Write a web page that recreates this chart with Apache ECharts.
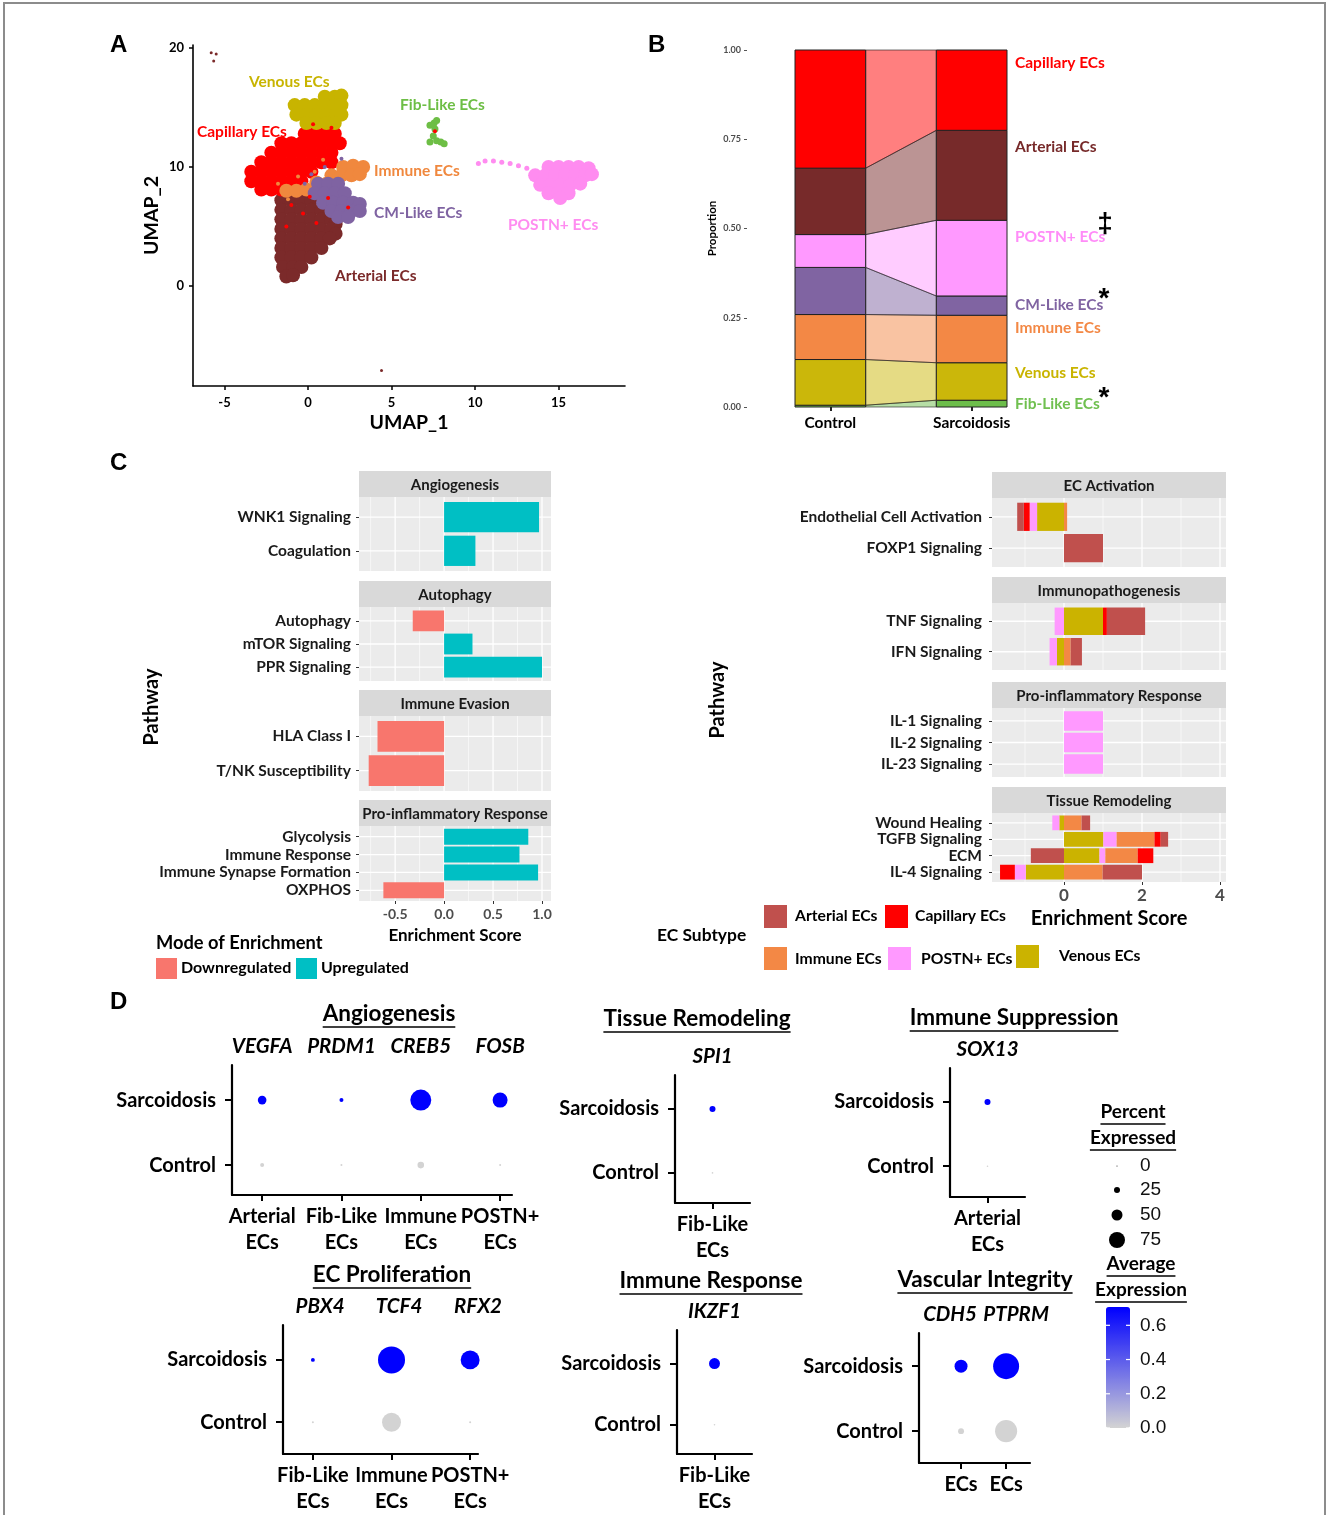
<!DOCTYPE html>
<html>
<head>
<meta charset="utf-8">
<script src="https://cdn.jsdelivr.net/npm/echarts@6.0.0/dist/echarts.min.js"></script>
<style>html,body{margin:0;padding:0;background:#fff;}#chart{width:1328px;height:1515px;}</style>
</head>
<body>
<div id="chart"></div>
<script>
// ======================= DATA =======================
// ---- Panel A : UMAP (approximate cluster samples, UMAP units) ----
const umapXTicks = [-5, 0, 5, 10, 15];
const umapYTicks = [0, 10, 20];
const arterialUmap = [
 [-1.6,7.2],[-1.0,7.2],[-0.4,7.2],[0.2,7.2],
 [-1.6,6.4],[-1.0,6.4],[-0.4,6.4],[0.2,6.4],[0.8,6.4],
 [-1.6,5.6],[-1.0,5.6],[-0.4,5.6],[0.2,5.6],[0.8,5.6],[1.4,5.6],[1.65,5.2],
 [-1.6,4.8],[-1.0,4.8],[-0.4,4.8],[0.2,4.8],[0.8,4.8],[1.4,4.8],[1.65,4.4],
 [-1.6,4.0],[-1.0,4.0],[-0.4,4.0],[0.2,4.0],[0.8,4.0],[1.3,4.0],
 [-1.6,3.2],[-1.0,3.2],[-0.4,3.2],[0.2,3.2],[0.8,3.2],
 [-1.6,2.4],[-1.0,2.4],[-0.4,2.4],[0.2,2.4],
 [-1.5,1.6],[-0.9,1.6],[-0.4,1.6],
 [-1.3,0.8],[-0.9,0.9]
];
const capillaryUmap = [
 [-0.2,12.8],[0.4,12.8],[1.0,12.8],[1.6,12.8],
 [-1.6,12.0],[-1.0,12.0],[-0.4,12.0],[0.2,12.0],[0.8,12.0],[1.4,12.0],[1.9,12.0],
 [-2.2,11.2],[-1.6,11.2],[-1.0,11.2],[-0.4,11.2],[0.2,11.2],[0.8,11.2],[1.4,11.2],
 [-2.8,10.4],[-2.2,10.4],[-1.6,10.4],[-1.0,10.4],[-0.4,10.4],[0.2,10.4],[0.8,10.4],[1.4,10.4],
 [-3.4,9.6],[-2.8,9.6],[-2.2,9.6],[-1.6,9.6],[-1.0,9.6],[-0.4,9.6],[0.2,9.6],
 [-3.4,8.8],[-2.8,8.8],[-2.2,8.8],[-1.6,8.8],[-1.0,8.8],[-0.4,8.8],
 [-2.8,8.1],[-2.2,8.1],[-1.6,8.1]
];
const immuneUmap = [
 [2.1,10.0],[2.7,10.1],[3.3,10.0],
 [1.4,9.3],[2.0,9.3],[2.6,9.3],[3.1,9.4],
 [0.5,8.7],[1.1,8.6],
 [-1.3,8.0],[-0.7,8.0],[-0.1,8.1]
];
const cmLikeUmap = [
 [0.6,8.6],[1.2,8.6],[1.8,8.6],
 [0.4,7.8],[1.0,7.8],[1.6,7.8],[2.2,7.8],
 [0.9,7.0],[1.5,7.0],[2.1,7.0],[2.7,7.0],[3.1,6.9],
 [1.4,6.3],[2.0,6.3],[2.6,6.3],[3.1,6.3],
 [1.8,5.8],[2.4,5.8]
];
const venousUmap = [
 [1.0,15.9],[1.6,15.9],[2.0,16.0],
 [-0.8,15.2],[-0.2,15.2],[0.4,15.2],[1.0,15.2],[1.6,15.2],[2.0,15.2],
 [-0.7,14.4],[-0.1,14.4],[0.5,14.4],[1.1,14.4],[1.7,14.4],[2.0,14.4],
 [-0.1,13.7],[0.5,13.7],[1.1,13.7],[1.6,13.7]
];
const fibLikeUmap = [[7.3,13.5],[7.55,13.7],[7.7,13.9],[7.6,13.2],[7.5,12.6],[7.7,12.2],[7.95,12.1],[8.15,11.95],[7.3,12.1]];
const postnUmap = [
 [14.4,10.0],[15.0,10.0],[15.6,10.0],[16.2,10.0],[16.8,9.9],
 [13.6,9.3],[14.2,9.3],[14.8,9.3],[15.4,9.3],[16.0,9.3],[16.6,9.3],[17.0,9.4],
 [13.9,8.5],[14.5,8.5],[15.1,8.5],[15.7,8.5],[16.3,8.6],
 [14.4,7.8],[15.0,7.8],[15.6,7.8],
 [15.1,7.4]
];
const postnTailUmap = [[10.2,10.3],[10.6,10.5],[11.1,10.5],[11.6,10.4],[12.1,10.3],[12.6,10.1],[13.1,9.9]];
const strayUmap = [[-5.8,19.6],[-5.5,19.5],[-5.65,18.9],[4.4,-7.1]];
// a few intermixed cells (small dots) scattered inside neighbouring clusters
const mixedCapillaryUmap = [[-1.0,6.8],[-0.3,6.1],[0.5,5.3],[-1.3,5.0],[0.1,7.5],[1.2,7.4],[2.4,6.6],[0.3,13.6],[1.4,13.3],[7.6,13.0]];
const mixedImmuneUmap = [[-1.8,8.6],[-0.6,9.2],[0.4,9.6],[-1.2,7.3],[0.9,10.6]];
const mixedCmUmap = [[0.2,9.4],[1.0,10.0],[-0.2,8.6],[2.0,10.7]];
const umapClusterNames = ['Venous ECs','Fib-Like ECs','Capillary ECs','Immune ECs','CM-Like ECs','POSTN+ ECs','Arterial ECs'];

// ---- Panel B : proportions (bottom -> top) ----
const bSubtypes = ['Fib-Like ECs','Venous ECs','Immune ECs','CM-Like ECs','POSTN+ ECs','Arterial ECs','Capillary ECs'];
const bControl = [0.005,0.128,0.126,0.132,0.092,0.186,0.331];
const bSarcoidosis = [0.019,0.105,0.133,0.054,0.212,0.252,0.225];
const bGroups = ['Control','Sarcoidosis'];

// ---- Panel C left ----
const cLeftFacets = ['Angiogenesis','Autophagy','Immune Evasion','Pro-inflammatory Response'];
const cLeftPathways = [
 ['WNK1 Signaling','Coagulation'],
 ['Autophagy','mTOR Signaling','PPR Signaling'],
 ['HLA Class I','T/NK Susceptibility'],
 ['Glycolysis','Immune Response','Immune Synapse Formation','OXPHOS']
];
const cLeftScores = [[0.97,0.32],[-0.32,0.29,1.0],[-0.68,-0.77],[0.86,0.77,0.96,-0.62]];
const cLeftTicks = [-0.5, 0, 0.5, 1.0];
const cLeftMinor = [-0.75, -0.25, 0.25, 0.75];
const modeNames = ['Downregulated','Upregulated'];

// ---- Panel C right (scores per subtype: Arterial, Capillary, Immune, POSTN+, Venous) ----
const cSubtypes = ['Arterial ECs','Capillary ECs','Immune ECs','POSTN+ ECs','Venous ECs'];
const cRightFacets = ['EC Activation','Immunopathogenesis','Pro-inflammatory Response','Tissue Remodeling'];
const cRightPathways = [
 ['Endothelial Cell Activation','FOXP1 Signaling'],
 ['TNF Signaling','IFN Signaling'],
 ['IL-1 Signaling','IL-2 Signaling','IL-23 Signaling'],
 ['Wound Healing','TGFB Signaling','ECM','IL-4 Signaling']
];
const cRightScores = [
 [[-0.17,-0.15,0.08,-0.19,-0.69],[1.0,0,0,0,0]],
 [[0.98,0.10,0,-0.24,1.0],[0.29,0,0.17,-0.19,-0.18]],
 [[0,0,0,1.0,0],[0,0,0,1.0,0],[0,0,0,1.0,0]],
 [[0.22,0,0.45,-0.18,-0.12],[0.19,0.16,0.97,0.34,1.01],[-0.85,0.40,0.83,0.15,0.91],[1.01,-0.38,0.99,-0.28,-0.98]]
];
const cRightTicks = [0, 2, 4];
const cRightMinor = [-1, 1, 3];

// ---- Panel D : dot plots ----
const dGroups = ['Control','Sarcoidosis'];
const angioGenes = ['VEGFA','PRDM1','CREB5','FOSB'];
const angioCells = ['Arterial\nECs','Fib-Like\nECs','Immune\nECs','POSTN+\nECs'];
const angioPctSarc = [38,15,100,70];
const angioPctCtrl = [15,5,28,5];
const angioExpSarc = [0.707,0.707,0.707,0.707];
const angioExpCtrl = [0,0,0,0];
const tissueGenes = ['SPI1'];
const tissueCells = ['Fib-Like\nECs'];
const tissuePctSarc = [25];
const tissuePctCtrl = [3];
const tissueExpSarc = [0.707];
const tissueExpCtrl = [0];
const suppGenes = ['SOX13'];
const suppCells = ['Arterial\nECs'];
const suppPctSarc = [25];
const suppPctCtrl = [3];
const suppExpSarc = [0.707];
const suppExpCtrl = [0];
const prolifGenes = ['PBX4','TCF4','RFX2'];
const prolifCells = ['Fib-Like\nECs','Immune\nECs','POSTN+\nECs'];
const prolifPctSarc = [11,100,69];
const prolifPctCtrl = [4,69,4];
const prolifExpSarc = [0.707,0.707,0.707];
const prolifExpCtrl = [0,0,0];
const respGenes = ['IKZF1'];
const respCells = ['Fib-Like\nECs'];
const respPctSarc = [50];
const respPctCtrl = [3];
const respExpSarc = [0.707];
const respExpCtrl = [0];
const vascGenes = ['CDH5','PTPRM'];
const vascCells = ['ECs','ECs'];
const vascPctSarc = [46,96];
const vascPctCtrl = [19,81];
const vascExpSarc = [0.707,0.707];
const vascExpCtrl = [0,0];
const pctLegend = [0,25,50,75];
const expLegendTicks = [0,0.2,0.4,0.6];
const expMax = 0.707;

// ======================= STYLE / LAYOUT =======================
const FF = 'Lato';
const mctx = document.createElement('canvas').getContext('2d');
function tw(text, font){ mctx.font = font; return mctx.measureText(text).width; }
function fnt(size, weight, style){ return (style||'normal') + ' ' + (weight||'bold') + ' ' + size + 'px ' + FF; }
function af(size, color, weight, extra){ return Object.assign({fontFamily:FF, fontSize:size, color:color||'#000', fontWeight:weight||'bold'}, extra||{}); }

const grids=[], xAxes=[], yAxes=[], series=[], graphics=[];
function addGrid(l,t,w,h,bg){ grids.push({left:l, top:t, width:w, height:h, show:!!bg, backgroundColor:bg||'transparent', borderWidth:0}); return grids.length-1; }
function txt(x,y,text,font,fill,align,vAlign,rot){
  align = align||'left'; vAlign = vAlign||'middle';
  return {type:'text', x:x, y:y, rotation:rot||0, silent:true, z:50,
    style:{text:text, font:font, fill:fill||'#000', align:align, verticalAlign:vAlign, textAlign:align, textVerticalAlign:vAlign}};
}
function rectG(x,y,w,h,fill,stroke,lw){ return {type:'rect', silent:true, z:40, shape:{x:x,y:y,width:w,height:h}, style:{fill:fill, stroke:stroke||null, lineWidth:lw||0}}; }
function lineG(x1,y1,x2,y2,stroke,lw){ return {type:'line', silent:true, z:50, shape:{x1:x1,y1:y1,x2:x2,y2:y2}, style:{stroke:stroke, lineWidth:lw}}; }
function underlined(cx, cy, text, size, offs){
  const font = fnt(size);
  const w = tw(text, font);
  graphics.push(txt(cx, cy, text, font, '#000', 'center'));
  graphics.push(lineG(cx-w/2, cy+offs, cx+w/2, cy+offs, '#000', 1.6));
}

// Panel letters
[['A',110,45],['B',648,45],['C',110,463],['D',110,1002]].forEach(p=>graphics.push(txt(p[1],p[2],p[0],'bold 24px "Liberation Sans"','#000')));
// frame
graphics.push({type:'rect', silent:true, z:60, shape:{x:4,y:3,width:1321,height:1540}, style:{fill:null, stroke:'#8c8c8c', lineWidth:2}});

// ---------------- Panel A ----------------
const umapColors = {arterial:'#7B2A2A', capillary:'#FF0000', immune:'#F0883E', cm:'#7F63A2', venous:'#C8B400', fib:'#6DBE45', postn:'#FF8CF0'};
const gA = addGrid(193,45,432,341);
xAxes.push({gridIndex:gA, type:'value', min:-6.89, max:18.98,
  axisLine:{show:true,onZero:false,lineStyle:{color:'#000',width:1.6}},
  axisTick:{show:true,customValues:umapXTicks,length:4,lineStyle:{color:'#000',width:1.5}},
  axisLabel:{customValues:umapXTicks, ...af(13), margin:10}, splitLine:{show:false},
  name:'UMAP_1', nameLocation:'middle', nameGap:27, nameTextStyle:af(19.5)});
const axA = xAxes.length-1;
yAxes.push({gridIndex:gA, type:'value', min:-8.40, max:20.25,
  axisLine:{show:true,onZero:false,lineStyle:{color:'#000',width:1.6}},
  axisTick:{show:true,customValues:umapYTicks,length:4,lineStyle:{color:'#000',width:1.5}},
  axisLabel:{customValues:umapYTicks, ...af(13), margin:9}, splitLine:{show:false},
  name:'UMAP_2', nameLocation:'middle', nameRotate:90, nameGap:31, nameTextStyle:af(19.5)});
const ayA = yAxes.length-1;
[[arterialUmap,umapColors.arterial,14],[capillaryUmap,umapColors.capillary,14],[immuneUmap,umapColors.immune,14],
 [cmLikeUmap,umapColors.cm,14],[venousUmap,umapColors.venous,14],[fibLikeUmap,umapColors.fib,7],
 [postnUmap,umapColors.postn,14],[postnTailUmap,umapColors.postn,5],[strayUmap,umapColors.arterial,3],
 [mixedCapillaryUmap,umapColors.capillary,4],[mixedImmuneUmap,umapColors.immune,4],[mixedCmUmap,umapColors.cm,4]].forEach(c=>{
  series.push({type:'scatter', xAxisIndex:axA, yAxisIndex:ayA, data:c[0], symbolSize:c[2], silent:true,
    itemStyle:{color:c[1], opacity:1}, z:2});
});
const umapLabelPos = [[249,82],[400,105],[197,132],[374,171],[374,213],[508,225],[335,276]];
const umapLabelCol = [umapColors.venous, umapColors.fib, umapColors.capillary, umapColors.immune, umapColors.cm, umapColors.postn, umapColors.arterial];
umapClusterNames.forEach((n,i)=>graphics.push(txt(umapLabelPos[i][0], umapLabelPos[i][1], n, fnt(15.5), umapLabelCol[i])));

// ---------------- Panel B ----------------
const bColors = ['#6DBE4B','#CBB70A','#F38845','#8064A2','#FF99FF','#772A2A','#FF0000'];
const bCumC=[0], bCumS=[0];
bControl.forEach((v,i)=>bCumC.push(bCumC[i]+v));
bSarcoidosis.forEach((v,i)=>bCumS.push(bCumS[i]+v));
const gB = addGrid(795,50,212,357);
xAxes.push({gridIndex:gB, type:'value', min:-0.25, max:1.25, axisLine:{show:false,onZero:false}, splitLine:{show:false},
  axisTick:{show:true, customValues:[0,1], length:4, lineStyle:{color:'#222',width:2}},
  axisLabel:{customValues:[0,1], formatter:v=>bGroups[Math.round(v)], ...af(15.5), margin:8, showMinLabel:true, showMaxLabel:true}});
const axB = xAxes.length-1;
yAxes.push({gridIndex:gB, type:'value', min:0, max:1, interval:0.25, offset:48,
  axisLine:{show:false,onZero:false}, splitLine:{show:false},
  axisTick:{show:true, length:3, lineStyle:{color:'#555'}},
  axisLabel:{formatter:v=>v.toFixed(2), ...af(9,'#4D4D4D'), margin:6},
  name:'Proportion', nameLocation:'middle', nameRotate:90, nameGap:29, nameTextStyle:af(11.5)});
const ayB = yAxes.length-1;
series.push({type:'custom', xAxisIndex:axB, yAxisIndex:ayB, silent:true, z:2, clip:false,
  data:bSubtypes.map((_,i)=>[i]),
  renderItem:(params, api)=>{
    const i = api.value(0);
    const c0=bCumC[i], c1=bCumC[i+1], s0=bCumS[i], s1=bCumS[i+1];
    const col = bColors[i];
    const A=api.coord([-0.25,c1]), B=api.coord([0.25,c0]), C=api.coord([0.75,s1]), D=api.coord([1.25,s0]);
    return {type:'group', children:[
      {type:'polygon', shape:{points:[api.coord([0.25,c0]),api.coord([0.25,c1]),api.coord([0.75,s1]),api.coord([0.75,s0])]},
        style:{fill:echarts.color.modifyAlpha(col,0.5), stroke:'rgba(40,40,40,0.8)', lineWidth:0.8}},
      {type:'rect', shape:{x:A[0],y:A[1],width:B[0]-A[0],height:B[1]-A[1]}, style:{fill:col, stroke:'#222', lineWidth:1}},
      {type:'rect', shape:{x:C[0],y:C[1],width:D[0]-C[0],height:D[1]-C[1]}, style:{fill:col, stroke:'#222', lineWidth:1}}
    ]};
  }});
const bLabelY = [404,373,328,305,237,147,63];
const bTextCol = ['#70C050','#C9B400','#F38845','#8064A2','#FF8CF8','#772A2A','#FF0000'];
bSubtypes.forEach((n,i)=>graphics.push(txt(1015, bLabelY[i], n, fnt(15.5), bTextCol[i])));
graphics.push(txt(1105,224,'\u2021','bold 28px "Liberation Sans"','#000','center'));
graphics.push(txt(1104,299,'*','bold 28px "Liberation Sans"','#000','center'));
graphics.push(txt(1104,398,'*','bold 28px "Liberation Sans"','#000','center'));

// ---------------- shared helpers for C ----------------
function gridLineSeries(xi, yi, major, minor, cats){
  const data=[];
  major.forEach(v=>data.push([0,v,1.3]));
  minor.forEach(v=>data.push([0,v,0.6]));
  cats.forEach(v=>data.push([1,v,1.3]));
  return {type:'custom', xAxisIndex:xi, yAxisIndex:yi, silent:true, z:1, clip:true, data:data,
    renderItem:(params, api)=>{
      const cs = params.coordSys;
      const kind=api.value(0), v=api.value(1), w=api.value(2);
      if (kind===0){ const x=api.coord([v,1])[0]; return {type:'line', shape:{x1:x,y1:cs.y,x2:x,y2:cs.y+cs.height}, style:{stroke:'#fff',lineWidth:w}}; }
      const y=api.coord([0,v])[1];
      return {type:'line', shape:{x1:cs.x,y1:y,x2:cs.x+cs.width,y2:y}, style:{stroke:'#fff',lineWidth:w}};
    }};
}
function barItem(params, api){
  const s=api.value(0), e=api.value(1), y=api.value(2);
  const p0=api.coord([s,y]), p1=api.coord([e,y]);
  const h=api.size([0,0.9])[1];
  return {type:'rect', shape:{x:Math.min(p0[0],p1[0]), y:p0[1]-h/2, width:Math.abs(p1[0]-p0[0]), height:h}, style:{fill:api.visual('color')}};
}

// ---------------- Panel C left ----------------
const modeColors = ['#F8766D','#00BFC4'];
const cLPanelTop = [497,607,716,826], cLPanelH = [74,74,75,75], cLStripTop = [471,581,690,800];
cLeftFacets.forEach((title,f)=>{
  const n = cLeftPathways[f].length;
  const cats = cLeftPathways[f].map((_,k)=>k+1);
  const last = f===cLeftFacets.length-1;
  const g = addGrid(359, cLPanelTop[f], 192, cLPanelH[f], '#EBEBEB');
  xAxes.push({gridIndex:g, type:'value', min:-0.869, max:1.092, axisLine:{show:false,onZero:false}, splitLine:{show:false},
    axisTick:{show:last, customValues:cLeftTicks, length:3, lineStyle:{color:'#333'}},
    axisLabel:{show:last, customValues:cLeftTicks, formatter:v=>v.toFixed(1), ...af(14,'#4D4D4D'), margin:6, showMinLabel:true, showMaxLabel:true},
    name:last?'Enrichment Score':'', nameLocation:'middle', nameGap:26, nameTextStyle:af(17)});
  const xi = xAxes.length-1;
  yAxes.push({gridIndex:g, type:'value', inverse:true, min:0.4, max:n+0.6, axisLine:{show:false,onZero:false}, splitLine:{show:false},
    axisTick:{show:true, customValues:cats, length:3, lineStyle:{color:'#333'}},
    axisLabel:{customValues:cats, formatter:v=>cLeftPathways[f][Math.round(v)-1], ...af(15.5,'#1A1A1A'), margin:8, showMinLabel:true, showMaxLabel:true}});
  const yi = yAxes.length-1;
  series.push(gridLineSeries(xi, yi, cLeftTicks, cLeftMinor, cats));
  series.push({type:'custom', xAxisIndex:xi, yAxisIndex:yi, silent:true, z:3, clip:true, renderItem:barItem,
    data:cLeftScores[f].map((v,k)=>({value:[Math.min(0,v),Math.max(0,v),k+1], itemStyle:{color:v<0?modeColors[0]:modeColors[1]}}))});
  graphics.push(rectG(359, cLStripTop[f], 192, 26, '#D9D9D9'));
  graphics.push(txt(455, cLStripTop[f]+14, title, fnt(15), '#1A1A1A', 'center'));
});
graphics.push(txt(152,707,'Pathway',fnt(20),'#000','center','middle',Math.PI/2));
graphics.push(txt(156,943,'Mode of Enrichment',fnt(18.3),'#000'));
graphics.push(rectG(156,958,21,21,modeColors[0]));
graphics.push(txt(181,968,modeNames[0],fnt(16),'#000'));
graphics.push(rectG(296,958,21,21,modeColors[1]));
graphics.push(txt(321,968,modeNames[1],fnt(16),'#000'));

// ---------------- Panel C right ----------------
const cSubColors = ['#C0504D','#FF0000','#F38845','#FF99FF','#CBB300'];
const stackOrder = [4,3,2,1,0];
function stackSegments(scores, y){
  let pos=0, neg=0; const segs=[];
  stackOrder.forEach(si=>{
    const v=scores[si];
    if (v>0){ segs.push({value:[pos,pos+v,y], itemStyle:{color:cSubColors[si]}}); pos+=v; }
    else if (v<0){ segs.push({value:[neg+v,neg,y], itemStyle:{color:cSubColors[si]}}); neg+=v; }
  });
  return segs;
}
const cRPanelTop = [498,603,708,813], cRPanelH = [69,67,69,69], cRStripTop = [472,577,682,787];
cRightFacets.forEach((title,f)=>{
  const n = cRightPathways[f].length;
  const cats = cRightPathways[f].map((_,k)=>k+1);
  const last = f===cRightFacets.length-1;
  const g = addGrid(992, cRPanelTop[f], 234, cRPanelH[f], '#EBEBEB');
  xAxes.push({gridIndex:g, type:'value', min:-1.846, max:4.154, axisLine:{show:false,onZero:false}, splitLine:{show:false},
    axisTick:{show:last, customValues:cRightTicks, length:3, lineStyle:{color:'#333'}},
    axisLabel:{show:last, customValues:cRightTicks, ...af(17,'#4D4D4D'), margin:5, showMinLabel:true, showMaxLabel:true},
    name:last?'Enrichment Score':'', nameLocation:'middle', nameGap:27, nameTextStyle:af(20)});
  const xi = xAxes.length-1;
  yAxes.push({gridIndex:g, type:'value', inverse:true, min:0.4, max:n+0.6, axisLine:{show:false,onZero:false}, splitLine:{show:false},
    axisTick:{show:true, customValues:cats, length:3, lineStyle:{color:'#333'}},
    axisLabel:{customValues:cats, formatter:v=>cRightPathways[f][Math.round(v)-1], ...af(15.5,'#1A1A1A'), margin:10, showMinLabel:true, showMaxLabel:true}});
  const yi = yAxes.length-1;
  series.push(gridLineSeries(xi, yi, cRightTicks, cRightMinor, cats));
  let data=[];
  cRightScores[f].forEach((sc,k)=>{ data = data.concat(stackSegments(sc,k+1)); });
  series.push({type:'custom', xAxisIndex:xi, yAxisIndex:yi, silent:true, z:3, clip:true, renderItem:barItem, data:data});
  graphics.push(rectG(992, cRStripTop[f], 234, 26, '#D9D9D9'));
  graphics.push(txt(1109, cRStripTop[f]+14, title, fnt(15), '#1A1A1A', 'center'));
});
graphics.push(txt(718,700,'Pathway',fnt(20),'#000','center','middle',Math.PI/2));
graphics.push(txt(657,935,'EC Subtype',fnt(17.4),'#000'));
const cLegPos = [[764,905,795,916],[885,905,915,916],[764,947,795,959],[888,947,921,959],[1016,945,1059,956]];
cSubtypes.forEach((n,i)=>{
  const p=cLegPos[i];
  graphics.push(rectG(p[0],p[1],23,23,cSubColors[i]));
  graphics.push(txt(p[2],p[3],n,fnt(15.7),'#000'));
});

// ---------------- Panel D ----------------
const dPlots = [
 {title:'Angiogenesis', tpos:[389,1014], genes:angioGenes, cells:angioCells, pS:angioPctSarc, pC:angioPctCtrl, eS:angioExpSarc, eC:angioExpCtrl, box:[232,1065,280,130], xr:[0.62,4.15], gxr:[0.62,4.15], yr:[0.54,2.54], k:0.2},
 {title:'Tissue Remodeling', tpos:[697,1019], genes:tissueGenes, cells:tissueCells, pS:tissuePctSarc, pC:tissuePctCtrl, eS:tissueExpSarc, eC:tissueExpCtrl, box:[675,1075,75,128], xr:[0.5,1.5], gxr:[0.5,1.5], yr:[0.53,2.53], k:0.2},
 {title:'Immune Suppression', tpos:[1014,1018], genes:suppGenes, cells:suppCells, pS:suppPctSarc, pC:suppPctCtrl, eS:suppExpSarc, eC:suppExpCtrl, box:[950,1068,75,129], xr:[0.5,1.5], gxr:[0.5,1.5], yr:[0.52,2.53], k:0.2},
 {title:'EC Proliferation', tpos:[392,1275], genes:prolifGenes, cells:prolifCells, pS:prolifPctSarc, pC:prolifPctCtrl, eS:prolifExpSarc, eC:prolifExpCtrl, box:[283,1325,195,130], xr:[0.62,3.10], gxr:[0.53,3.0], yr:[0.49,2.56], k:0.26},
 {title:'Immune Response', tpos:[711,1281], genes:respGenes, cells:respCells, pS:respPctSarc, pC:respPctCtrl, eS:respExpSarc, eC:respExpCtrl, box:[677,1330,75,130], xr:[0.5,1.5], gxr:[0.5,1.5], yr:[0.52,2.55], k:0.2},
 {title:'Vascular Integrity', tpos:[985,1280], genes:vascGenes, cells:vascCells, pS:vascPctSarc, pC:vascPctCtrl, eS:vascExpSarc, eC:vascExpCtrl, box:[919,1333,111,130], xr:[0.067,2.53], gxr:[0.53,2.21], yr:[0.51,2.51], k:0.26}
];
const dSeriesIdx = [];
dPlots.forEach(p=>{
  const b=p.box;
  const g = addGrid(b[0],b[1],b[2],b[3]);
  const xv = p.genes.map((_,i)=>i+1);
  xAxes.push({gridIndex:g, type:'value', min:p.xr[0], max:p.xr[1], splitLine:{show:false},
    axisLine:{show:true,onZero:false,lineStyle:{color:'#000',width:2.2}},
    axisTick:{show:true, customValues:xv, length:6, lineStyle:{color:'#000',width:2}},
    axisLabel:{customValues:xv, formatter:v=>p.cells[Math.round(v)-1], ...af(20,'#000','bold',{lineHeight:26}), margin:9, showMinLabel:true, showMaxLabel:true, hideOverlap:false}});
  const xi = xAxes.length-1;
  xAxes.push({gridIndex:g, type:'value', position:'top', min:p.gxr[0], max:p.gxr[1], splitLine:{show:false},
    axisLine:{show:false,onZero:false}, axisTick:{show:false, customValues:xv},
    axisLabel:{customValues:xv, formatter:v=>p.genes[Math.round(v)-1], ...af(20.5,'#000','bold',{fontStyle:'italic'}), margin:9, showMinLabel:true, showMaxLabel:true, hideOverlap:false}});
  yAxes.push({gridIndex:g, type:'value', min:p.yr[0], max:p.yr[1], splitLine:{show:false},
    axisLine:{show:true,onZero:false,lineStyle:{color:'#000',width:2.2}},
    axisTick:{show:true, customValues:[1,2], length:7, lineStyle:{color:'#000',width:2}},
    axisLabel:{customValues:[1,2], formatter:v=>dGroups[Math.round(v)-1], ...af(20), margin:16, showMinLabel:true, showMaxLabel:true}});
  const yi = yAxes.length-1;
  const data=[];
  p.genes.forEach((_,i)=>{ data.push([i+1,2,p.pS[i],p.eS[i]]); data.push([i+1,1,p.pC[i],p.eC[i]]); });
  const k=p.k;
  series.push({type:'scatter', xAxisIndex:xi, yAxisIndex:yi, data:data, silent:true, z:3,
    symbolSize:v=>1+v[2]*k, itemStyle:{opacity:1}});
  dSeriesIdx.push(series.length-1);
  underlined(p.tpos[0], p.tpos[1], p.title, 22.5, 13);
});
// Percent expressed legend
underlined(1133,1112,'Percent',19,12);
underlined(1133,1138,'Expressed',19,12);
const pctLegY = [1166,1190,1215,1240];
pctLegend.forEach((v,i)=>{
  const d = 1+v*0.2;
  graphics.push({type:'circle', silent:true, z:50, shape:{cx:1117, cy:pctLegY[i], r:d/2}, style:{fill:'#000'}});
  graphics.push(txt(1140, pctLegY[i], String(v), '19px "Liberation Sans"', '#111'));
});
underlined(1141,1264,'Average',19,12);
underlined(1141,1290,'Expression',19,12);
expLegendTicks.forEach(v=>{
  const y = 1428 - v/expMax*121;
  graphics.push(txt(1140, y, v.toFixed(1), '19px "Liberation Sans"', '#111'));
  graphics.push(lineG(1106,y,1110,y,'#fff',1.2));
  graphics.push(lineG(1126,y,1130,y,'#fff',1.2));
});

const option = {
  animation:false, backgroundColor:'#fff',
  grid:grids, xAxis:xAxes, yAxis:yAxes, series:series,
  visualMap:[{type:'continuous', min:0, max:expMax, dimension:3, seriesIndex:dSeriesIdx,
    inRange:{color:['#D3D3D3','#0000FF']}, left:1106, top:1307, itemWidth:24, itemHeight:121,
    calculable:false, text:null, showLabel:false, padding:0, orient:'vertical', hoverLink:false, z:10}],
  graphic:{elements:graphics}
};
const chart = echarts.init(document.getElementById('chart'), null, {renderer:'canvas'});
chart.setOption(option);
</script>
</body>
</html>
